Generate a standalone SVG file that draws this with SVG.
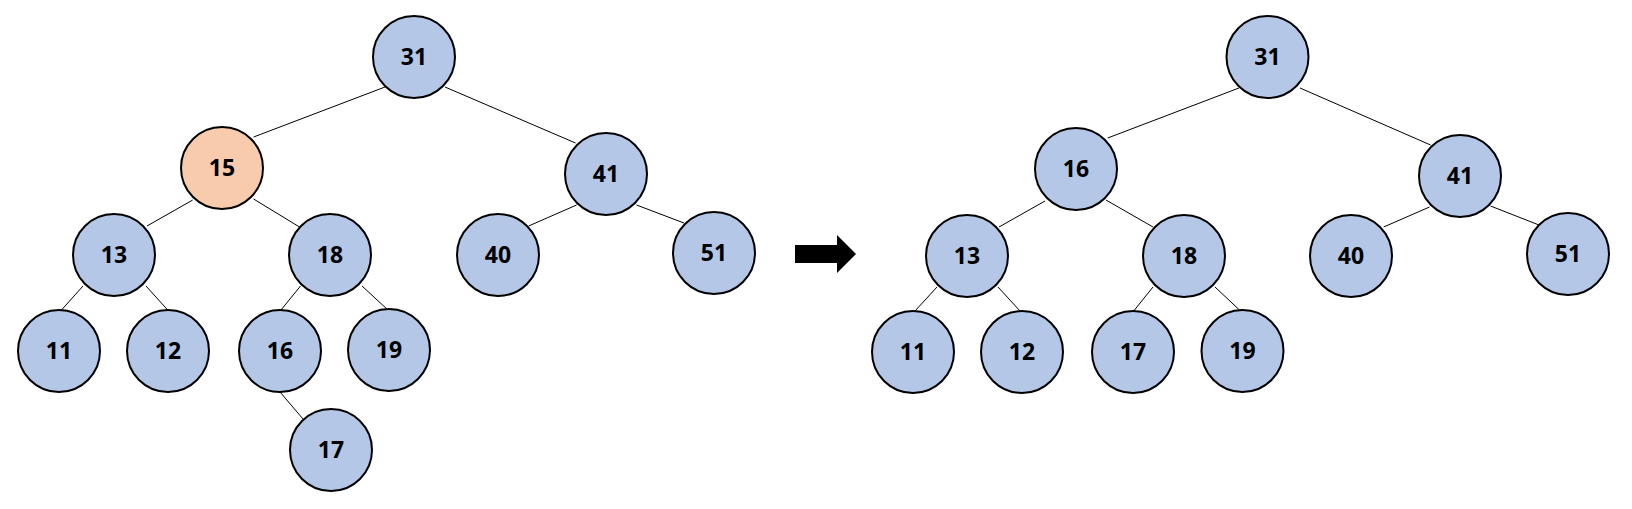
<svg xmlns="http://www.w3.org/2000/svg" width="1632" height="509" viewBox="0 0 1632 509">
<style>
.n circle{fill:#b4c7e7;stroke:#000;stroke-width:2}
.n.hl circle{fill:#f8cbad}
.n text{font-family:"Noto Sans","Open Sans",sans-serif;font-weight:bold;font-size:23px;fill:#000;text-anchor:middle;dominant-baseline:central}
#edges line{stroke:#000;stroke-width:1}
</style>
<rect width="1632" height="509" fill="#fff"/>
<g id="edges">
<line x1="385" y1="87" x2="253.6" y2="137"/>
<line x1="445" y1="87" x2="575.5" y2="143"/>
<line x1="192.7" y1="200" x2="147" y2="226"/>
<line x1="253.6" y1="199" x2="299.5" y2="227"/>
<line x1="576.6" y1="205" x2="528.6" y2="226"/>
<line x1="636.5" y1="205" x2="684" y2="223"/>
<line x1="83" y1="286" x2="61.5" y2="310"/>
<line x1="146" y1="286" x2="167.7" y2="310"/>
<line x1="300.5" y1="286" x2="281" y2="310"/>
<line x1="362" y1="286" x2="388" y2="310"/>
<line x1="280" y1="392" x2="303" y2="419"/>
<line x1="1239" y1="88" x2="1107.7" y2="138"/>
<line x1="1300" y1="88" x2="1430.6" y2="145"/>
<line x1="1045" y1="201" x2="999" y2="227"/>
<line x1="1106" y1="200" x2="1153" y2="227"/>
<line x1="1429.5" y1="207" x2="1383.7" y2="227"/>
<line x1="1490.5" y1="206" x2="1539" y2="225"/>
<line x1="937" y1="287" x2="915" y2="311"/>
<line x1="998" y1="287" x2="1020" y2="311"/>
<line x1="1153" y1="287" x2="1133.7" y2="311"/>
<line x1="1215" y1="287" x2="1240.5" y2="311"/>
</g>
<g id="L31" class="n"><circle cx="414" cy="57" r="41"/><text x="414" y="56">31</text></g>
<g id="L15" class="n hl"><circle cx="222" cy="168" r="41"/><text x="222" y="167">15</text></g>
<g id="L41" class="n"><circle cx="606" cy="174" r="41"/><text x="606" y="173">41</text></g>
<g id="L13" class="n"><circle cx="114" cy="255" r="41"/><text x="114" y="254">13</text></g>
<g id="L18" class="n"><circle cx="330" cy="255" r="41"/><text x="330" y="254">18</text></g>
<g id="L40" class="n"><circle cx="498" cy="255" r="41"/><text x="498" y="254">40</text></g>
<g id="L51" class="n"><circle cx="714" cy="253" r="41"/><text x="714" y="252">51</text></g>
<g id="L11" class="n"><circle cx="59" cy="351" r="41"/><text x="59" y="350">11</text></g>
<g id="L12" class="n"><circle cx="168" cy="351" r="41"/><text x="168" y="350">12</text></g>
<g id="L16" class="n"><circle cx="280" cy="351" r="41"/><text x="280" y="350">16</text></g>
<g id="L19" class="n"><circle cx="389" cy="350" r="41"/><text x="389" y="349">19</text></g>
<g id="L17" class="n"><circle cx="331" cy="450" r="41"/><text x="331" y="449">17</text></g>
<g id="arrow"><polygon points="795,245 837,245 837,235 856,254 837,273 837,263 795,263" fill="#000"/></g>
<g id="R31" class="n"><circle cx="1267.5" cy="57" r="41"/><text x="1267.5" y="56">31</text></g>
<g id="R16" class="n"><circle cx="1076" cy="169" r="41"/><text x="1076" y="168">16</text></g>
<g id="R41" class="n"><circle cx="1460" cy="176" r="41"/><text x="1460" y="175">41</text></g>
<g id="R13" class="n"><circle cx="967" cy="256" r="41"/><text x="967" y="255">13</text></g>
<g id="R18" class="n"><circle cx="1184" cy="256" r="41"/><text x="1184" y="255">18</text></g>
<g id="R40" class="n"><circle cx="1351" cy="256" r="41"/><text x="1351" y="255">40</text></g>
<g id="R51" class="n"><circle cx="1568" cy="254" r="41"/><text x="1568" y="253">51</text></g>
<g id="R11" class="n"><circle cx="913" cy="352" r="41"/><text x="913" y="351">11</text></g>
<g id="R12" class="n"><circle cx="1022" cy="352" r="41"/><text x="1022" y="351">12</text></g>
<g id="R17" class="n"><circle cx="1133" cy="352" r="41"/><text x="1133" y="351">17</text></g>
<g id="R19" class="n"><circle cx="1242.5" cy="351" r="41"/><text x="1242.5" y="350">19</text></g>
</svg>
